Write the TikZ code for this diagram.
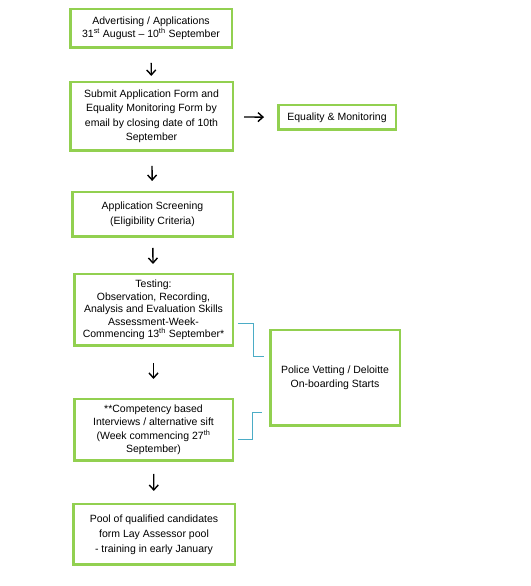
\documentclass[tikz,border=0pt]{standalone}
\usepackage{fontspec}
\setmainfont{Liberation Sans}
\usepackage{tikz}
\usetikzlibrary{arrows.meta,calc}
\definecolor{GreenDefault}{HTML}{92D050}
\definecolor{BlueDefault}{HTML}{4BACC6}

\begin{document}
\begin{tikzpicture}[x=1pt,y=1pt,
    stage/.style={draw=GreenDefault, line width=2.5pt, align=center, inner sep=0pt, font=\fontsize{10.5}{14}\selectfont},
    flow/.style={black, line width=1.4pt, -{Straight Barb[length=5pt,width=9pt]}},
    link/.style={BlueDefault, line width=1pt}]
    \useasboundingbox (0,0) rectangle (530,586);
    %%Stages
    \node[stage, minimum width=161.5pt, minimum height=38.5pt, font=\fontsize{10.5}{13.5}\selectfont] (adv) at (151,557.5)
        {Advertising / Applications\\31\textsuperscript{st} August -- 10\textsuperscript{th} September};
    \node[stage, minimum width=162.5pt, minimum height=68.5pt, font=\fontsize{10.5}{14.5}\selectfont] (sub) at (151.5,469.5)
        {Submit Application Form and\\Equality Monitoring Form by\\email by closing date of 10th\\September};
    \node[stage, minimum width=117.5pt, minimum height=24.5pt] (eq) at (337,468.5) {Equality \& Monitoring};
    \node[stage, minimum width=160.5pt, minimum height=44.5pt, font=\fontsize{10.5}{15}\selectfont] (scr) at (152.5,371.5)
        {Application Screening\\(Eligibility Criteria)};
    \node[stage, minimum width=158.5pt, minimum height=71.5pt, font=\fontsize{10.5}{12.5}\selectfont] (test) at (153.5,276)
        {Testing:\\Observation, Recording,\\Analysis and Evaluation Skills\\Assessment-Week-\\Commencing 13\textsuperscript{th} September*};
    \node[stage, minimum width=158.5pt, minimum height=61.5pt, font=\fontsize{10.5}{13.5}\selectfont] (int) at (153.5,156)
        {**Competency based\\Interviews / alternative sift\\(Week commencing 27\textsuperscript{th}\\September)};
    \node[stage, minimum width=129.5pt, minimum height=95.5pt] (pv) at (335,208)
        {Police Vetting / Deloitte\\On-boarding Starts};
    \node[stage, minimum width=161.5pt, minimum height=60.5pt, font=\fontsize{10.5}{15}\selectfont] (pool) at (154,51.5)
        {Pool of qualified candidates\\form Lay Assessor pool\\- training in early January};
    %%Flow arrows
    \draw[flow, shorten <=14pt, shorten >=5pt] (adv) -- (sub);
    \draw[flow, shorten <=10pt, shorten >=13pt] (sub) -- (eq);
    \draw[flow, shorten <=14pt, shorten >=10pt] (sub) -- (scr);
    \draw[flow, shorten <=10pt, shorten >=9pt] (scr) -- (test);
    \draw[flow, shorten <=16pt, shorten >=19pt] (test) -- (int);
    \draw[flow, shorten <=12pt, shorten >=12pt] (int) -- (pool);
    %%Vetting links
    \draw[link] ([shift={(4pt,-14pt)}]test.east) -- ++(15,0) |- ([shift={(-5pt,21pt)}]pv.west);
    \draw[link] ([shift={(4pt,-10pt)}]int.east) -- ++(14,0) |- ([shift={(-7pt,-35pt)}]pv.west);
\end{tikzpicture}
\end{document}
